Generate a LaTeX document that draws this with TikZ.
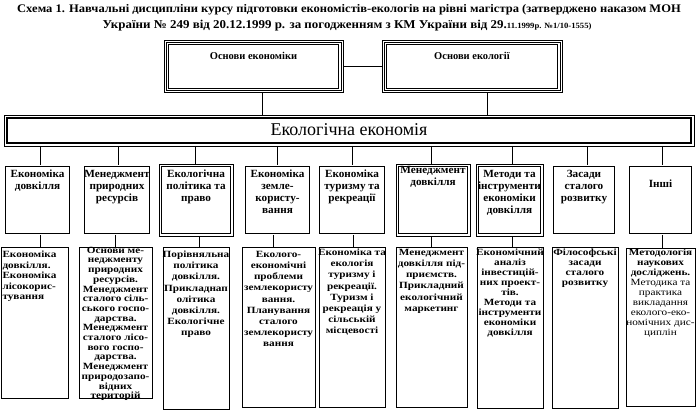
\documentclass[tikz,border=0pt]{standalone}
\usepackage{fontspec}
\setmainfont{Liberation Serif}
\newfontfamily\lowfont[FakeStretch=1.18]{Liberation Serif}
\newfontfamily\midfont[FakeStretch=1.02]{Liberation Serif}
\newfontfamily\titlefont[FakeStretch=1.08]{Liberation Serif}
\begin{document}
\begin{tikzpicture}[x=1pt,y=-1pt,
  every node/.style={inner sep=0pt, outer sep=0pt},
  conn/.style={line width=0.9pt},
  thinframe/.style={draw, line width=0.8pt},
  dblframe/.style={draw, double, double distance=1.6pt, line width=0.7pt},
  innerthin/.style={line width=0.7pt},
  innerthick/.style={line width=1.3pt},
  midtext/.style={font=\midfont\fontsize{11}{12}\bfseries\selectfont, align=center, anchor=north},
  lowtext/.style={font=\lowfont\fontsize{9.5}{#1}\bfseries\selectfont, align=center, anchor=north},
]
\useasboundingbox (0,0) rectangle (698,414);
\fill[white] (0,0) rectangle (698,414);

% title
\node[font=\titlefont\fontsize{11.6}{14}\bfseries\selectfont] (title1) at (349,10)
  {Схема 1. Навчальні дисципліни курсу підготовки економістів-екологів на рівні магістра (затверджено наказом МОН};
\node[font=\titlefont\fontsize{12}{14}\bfseries\selectfont] (title2) at (347,26)
  {України № 249 від 20.12.1999 р. за погодженням з КМ України від 29.{\fontsize{8}{9}\selectfont 11.1999р. №1/10-1555)}};

% top boxes
\node[thinframe, minimum width=179pt, minimum height=52.5pt] (a) at (253.5,66.25) {};
\node[thinframe, minimum width=180pt, minimum height=52.5pt] (b) at (472,66.25) {};
\foreach \n in {a,b}{
  \draw[innerthin] ([shift={(2pt,-2pt)}]\n.north west) rectangle ([shift={(-2pt,2pt)}]\n.south east);
  \draw[innerthick] ([shift={(4.2pt,-4.2pt)}]\n.north west) rectangle ([shift={(-4.2pt,4.2pt)}]\n.south east);
}
\node[font=\fontsize{10.5}{12}\bfseries\selectfont, anchor=north] (ta) at (253.5,52) {Основи економіки};
\node[font=\fontsize{10.5}{12}\bfseries\selectfont, anchor=north] (tb) at (472,52) {Основи екології};

% big box
\node[thinframe, minimum width=690pt, minimum height=31pt] (E) at (349,130.5) {};
\draw[line width=2pt] ([shift={(3pt,-3pt)}]E.north west) rectangle ([shift={(-3pt,3pt)}]E.south east);
\node[font=\fontsize{18}{20}\selectfont] (tE) at (349,130) {Екологічна економія};

% connectors top
\draw[conn] (a.east) -- (b.west);
\coordinate (va) at (262,0);
\coordinate (vb) at (487,0);
\draw[conn] (a.south -| va) -- (E.north -| va);
\draw[conn] (b.south -| vb) -- (E.north -| vb);

% middle boxes
\foreach \n/\cx/\w in {m1/37.5/69, m2/117/70, m4/277.5/69, m5/352/70, m8/584/66, m9/660.5/67}{
  \node[dblframe, minimum width=\w pt-2.4pt, minimum height=69.6pt] (\n) at (\cx,200) {};
}
\foreach \n/\cx/\w in {m3/196/74, m6/433/74, m7/509.5/67}{
  \node[thinframe, minimum width=\w pt, minimum height=72pt] (\n) at (\cx,200) {};
  \draw[innerthick] ([shift={(2.8pt,-2.8pt)}]\n.north west) rectangle ([shift={(-2.8pt,2.8pt)}]\n.south east);
}

\node[midtext] (tm1) at (37.5,170) {Економіка\\довкілля};
\node[midtext] (tm2) at (117,170) {Менеджмент\\природних\\ресурсів};
\node[midtext] (tm3) at (196,170) {Екологічна\\політика та\\право};
\node[midtext] (tm4) at (277.5,170) {Економіка\\земле-\\користу-\\вання};
\node[midtext] (tm5) at (352,170) {Економіка\\туризму та\\рекреації};
\node[midtext] (tm6) at (433,166) {Менеджмент\\довкілля};
\node[midtext] (tm7) at (509.5,170) {Методи та\\інструменти\\економіки\\довкілля};
\node[midtext] (tm8) at (584,170) {Засади\\сталого\\розвитку};
\node[midtext] (tm9) at (660.5,179.5) {Інші};

% connectors big box -> middle
\foreach \xx/\m in {40/m1, 118/m2, 195/m3, 277/m4, 352/m5, 431/m6, 512/m7, 587/m8, 662/m9}{
  \coordinate (k\m) at (\xx,0);
  \draw[conn] (E.south -| k\m) -- (\m.north -| k\m);
}

% lower boxes
\node[thinframe, minimum width=67pt, minimum height=151pt] (l1) at (34.5,322.5) {};
\node[thinframe, minimum width=73pt, minimum height=151pt] (l2) at (115.5,322.5) {};
\node[thinframe, minimum width=66pt, minimum height=162pt] (l3) at (196,328) {};
\node[thinframe, minimum width=73pt, minimum height=160pt] (l4) at (278.5,327) {};
\node[thinframe, minimum width=66pt, minimum height=160pt] (l5) at (352,327) {};
\node[thinframe, minimum width=71pt, minimum height=160pt] (l6) at (431.5,327) {};
\node[thinframe, minimum width=66pt, minimum height=161pt] (l7) at (510,327.5) {};
\node[thinframe, minimum width=66pt, minimum height=161pt] (l8) at (585,327.5) {};
\node[thinframe, minimum width=69pt, minimum height=158pt] (l9) at (660.5,327) {};

% connectors middle -> lower
\foreach \xx/\m/\l in {40/m1/l1, 115/m2/l2, 199/m3/l3, 273/m4/l4, 353/m5/l5, 431/m6/l6, 512/m7/l7, 662/m9/l9}{
  \coordinate (j\l) at (\xx,0);
  \draw[conn] (\m.south -| j\l) -- (\l.north -| j\l);
}

% lower texts
\node[lowtext=10.5, anchor=north west, align=left] (tl1) at (2.5,251)
  {Економіка\\довкілля.\\Економіка\\лісокорис-\\тування};
\node[lowtext=9.7] (tl2) at (115.5,247)
  {Основи ме-\\неджменту\\природних\\ресурсів.\\Менеджмент\\сталого сіль-\\ського госпо-\\дарства.\\Менеджмент\\сталого лісо-\\вого госпо-\\дарства.\\Менеджмент\\природозапо-\\відних\\територій};
\node[lowtext=11.2] (tl3) at (196,251)
  {Порівняльна\\політика\\довкілля.\\Прикладнап\\олітика\\довкілля.\\Екологічне\\право};
\node[lowtext=11.2] (tl4) at (278.5,251)
  {Еколого-\\економічні\\проблеми\\землекористу\\вання.\\Планування\\сталого\\землекористу\\вання};
\node[lowtext=11.2] (tl5) at (352,249)
  {Економіка та\\екологія\\туризму і\\рекреації.\\Туризм і\\рекреація у\\сільській\\місцевості};
\node[lowtext=11.2] (tl6) at (431.5,249)
  {Менеджмент\\довкілля під-\\приємств.\\Прикладний\\екологічний\\маркетинг};
\node[lowtext=10] (tl7) at (510,249)
  {Економічний\\аналіз\\інвестицій-\\них проект-\\тів.\\Методи та\\інструменти\\економіки\\довкілля};
\node[lowtext=10] (tl8) at (585,249)
  {Філософські\\засади\\сталого\\розвитку};
\node[lowtext=10] (tl9) at (660.5,249)
  {Методологія\\наукових\\досліджень.\\\mdseries Методика та\\\mdseries практика\\\mdseries викладання\\\mdseries еколого-еко-\\\mdseries номічних дис-\\\mdseries циплін};
\end{tikzpicture}
\end{document}
